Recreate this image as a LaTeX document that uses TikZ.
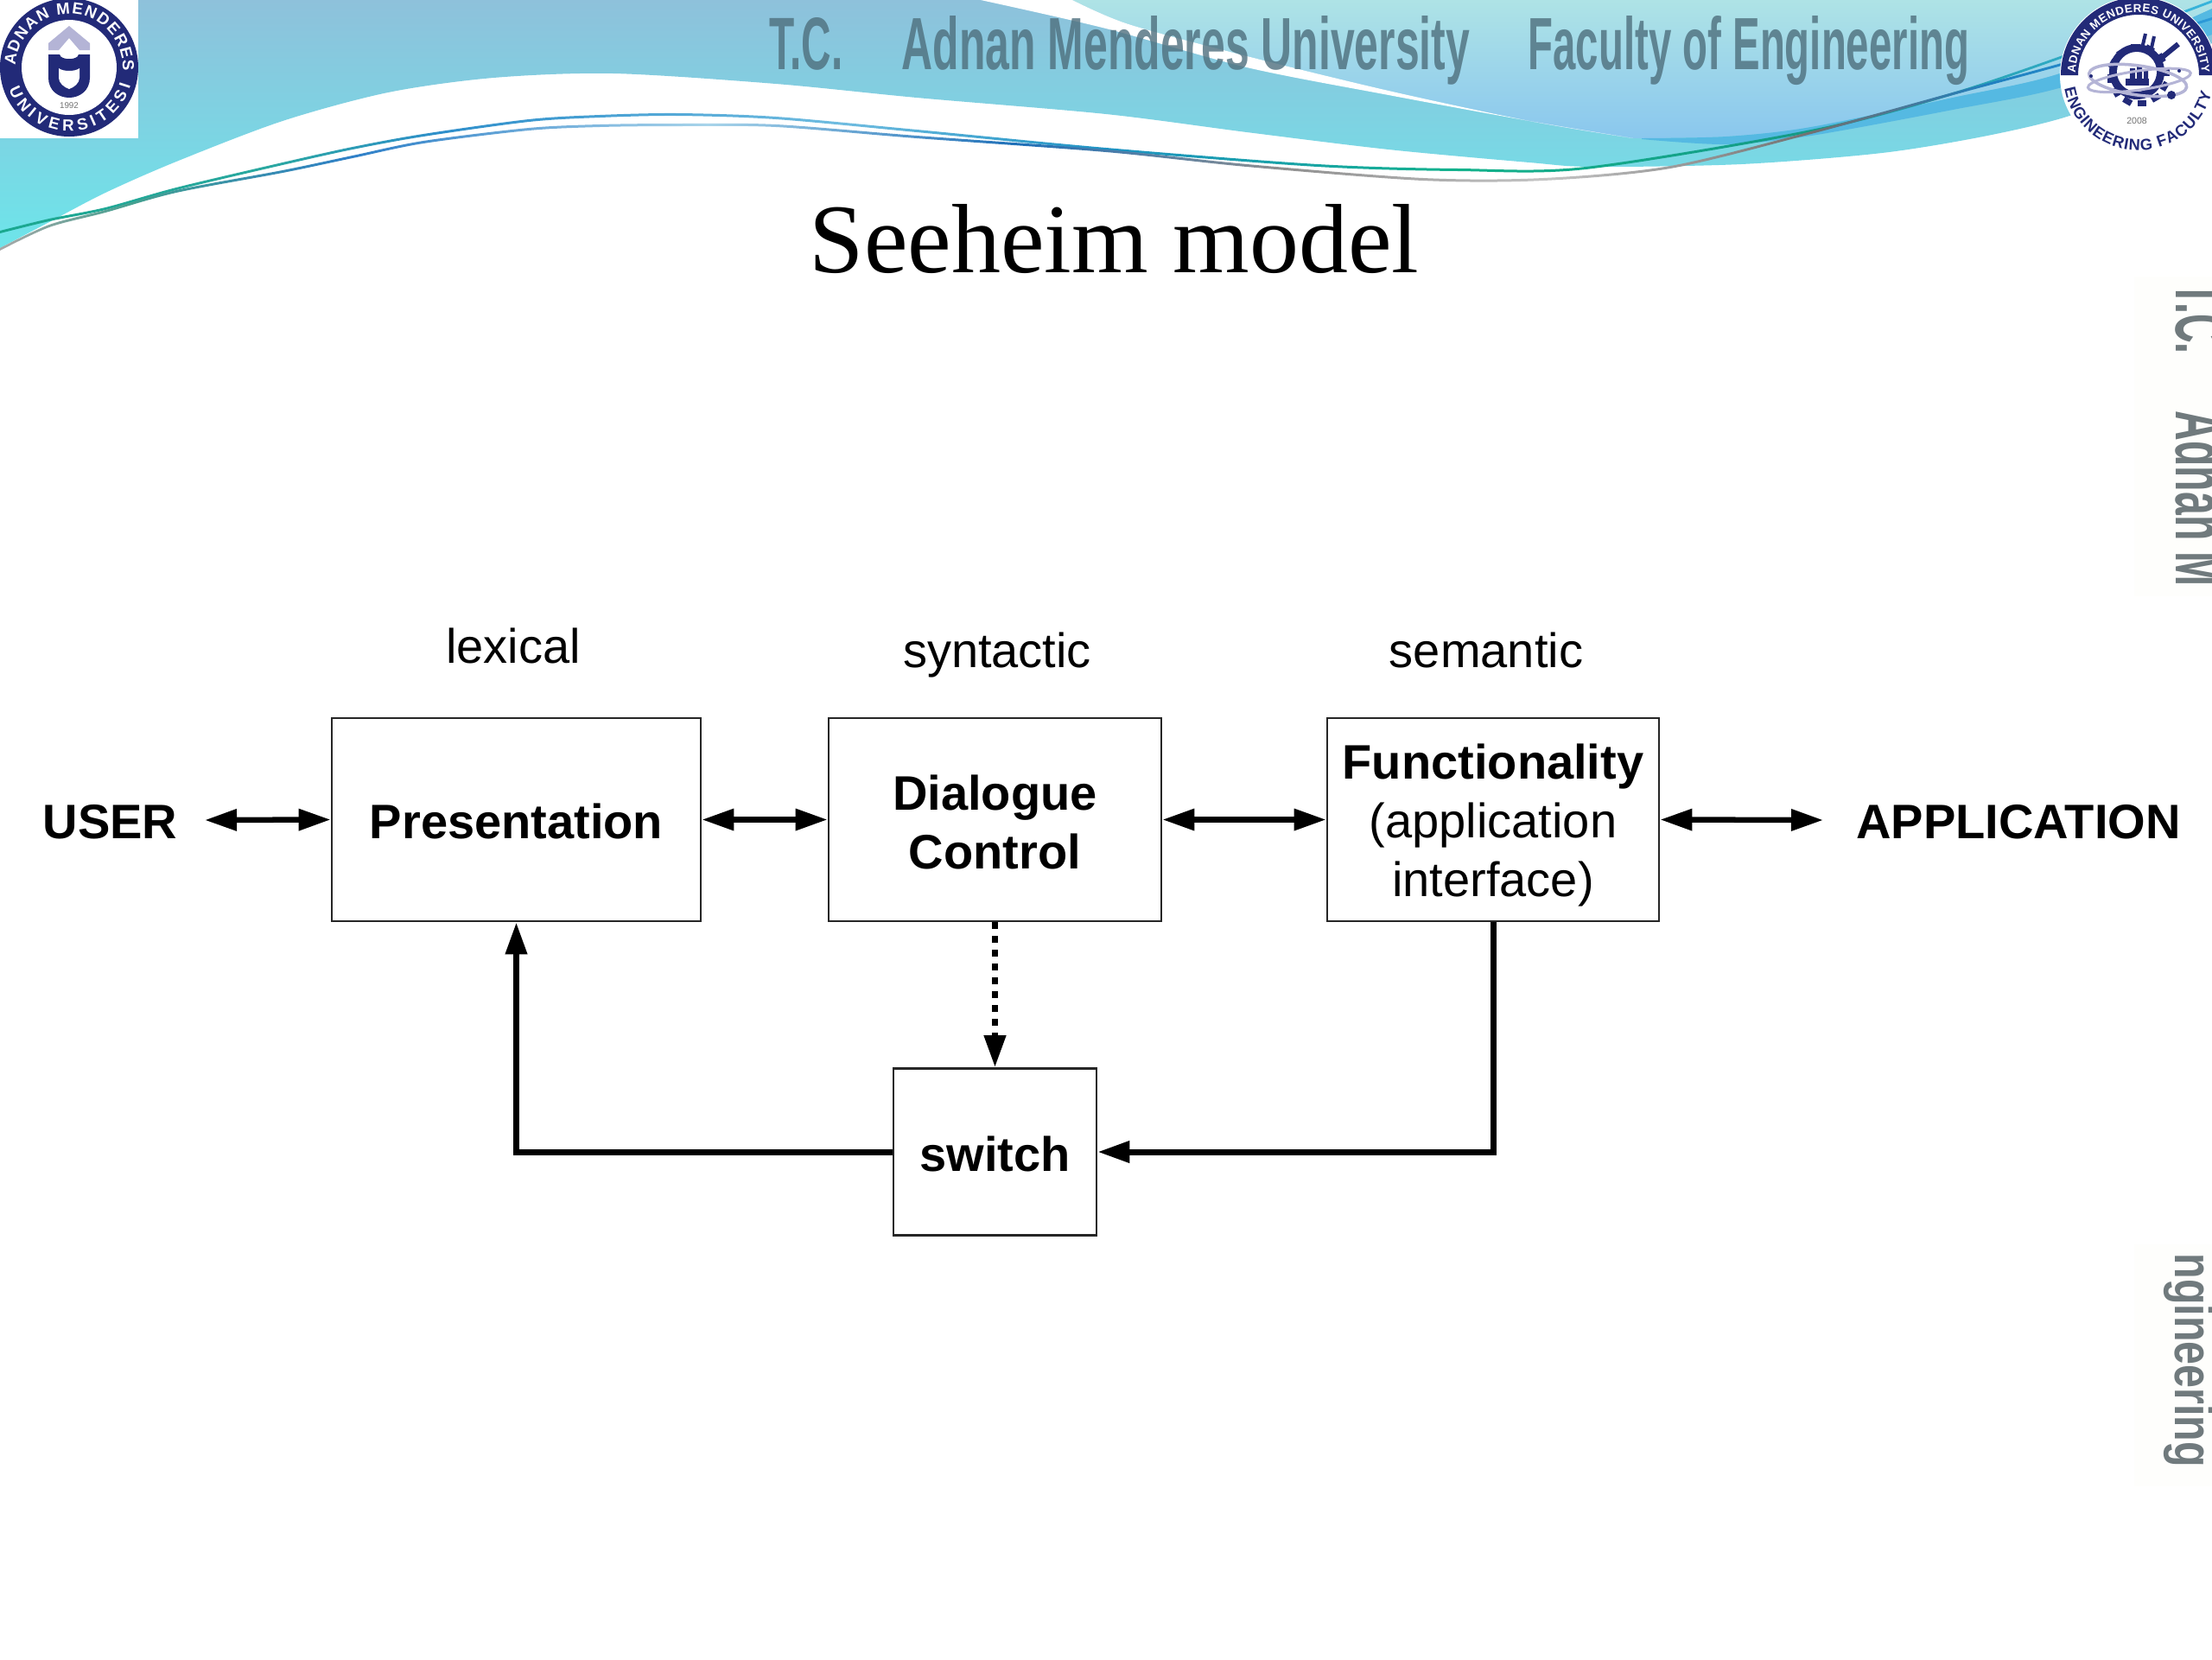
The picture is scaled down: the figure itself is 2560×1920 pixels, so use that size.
\documentclass[tikz,border=0pt]{standalone}
\usepackage{fontspec}
\usepackage{graphicx}
\usetikzlibrary{arrows.meta,decorations.text}
\setmainfont{Liberation Sans}
\setsansfont{Liberation Sans}
\newfontfamily\titlefont{Liberation Serif}
\definecolor{navy}{HTML}{222A78}
\definecolor{lav}{HTML}{B4B4D6}
\definecolor{hdrtext}{HTML}{4E6F7D}
\definecolor{sidetext}{HTML}{707A7D}
\definecolor{bandtop}{HTML}{8EC1DB}
\definecolor{bandbot}{HTML}{6DE5EA}
\definecolor{fieldtop}{HTML}{AEE3E6}
\definecolor{fieldbot}{HTML}{8AC7EE}
\definecolor{darkband}{HTML}{55B9E2}
\definecolor{panel}{HTML}{FEFEFC}
\definecolor{aa}{HTML}{1AA88F}
\definecolor{ab}{HTML}{2AA8A0}
\definecolor{ac}{HTML}{2F8FCB}
\definecolor{ad}{HTML}{6FBCE0}
\definecolor{ae}{HTML}{1F93C4}
\definecolor{af}{HTML}{14B28C}
\definecolor{ag}{HTML}{149A86}
\definecolor{ah}{HTML}{2AA5B8}
\definecolor{ai}{HTML}{38B4DC}
\definecolor{ba}{HTML}{A8A8A8}
\definecolor{bb}{HTML}{44A090}
\definecolor{bc}{HTML}{2F80C8}
\definecolor{bd}{HTML}{A8D4EA}
\definecolor{be}{HTML}{2070B8}
\definecolor{bf}{HTML}{909090}
\definecolor{bg}{HTML}{C4C4C4}
\definecolor{bh}{HTML}{707070}
\definecolor{bi}{HTML}{2080C0}
\definecolor{bj}{HTML}{2C9AD8}
\pgfdeclarehorizontalshading{lineA}{100bp}{
 color(0bp)=(aa); color(25bp)=(aa); color(31bp)=(ab);
 color(35bp)=(ac); color(44bp)=(ad); color(50bp)=(ae);
 color(58bp)=(af); color(66bp)=(ag); color(70bp)=(ah); color(75bp)=(ai); color(100bp)=(ai)}
\pgfdeclarehorizontalshading{lineB}{100bp}{
 color(0bp)=(ba); color(25bp)=(ba); color(28bp)=(bb); color(33bp)=(bc);
 color(41bp)=(bd); color(48bp)=(be); color(54bp)=(bf);
 color(60bp)=(bg); color(66bp)=(bh); color(70bp)=(bi); color(75bp)=(bj); color(100bp)=(bj)}
\newcommand{\lfa}{\sffamily\bfseries\fontsize{5.3}{6}\selectfont\color{white}}
\newcommand{\lfb}{\sffamily\bfseries\fontsize{3.8}{5}\selectfont\color{white}}
\newcommand{\lfc}{\sffamily\bfseries\fontsize{5.2}{6}\selectfont\color{navy}}
\tikzset{
 x=0.01cm,y=-0.01cm,
 diagbox/.style={draw=black!85,line width=0.7pt,fill=white,inner sep=0pt,align=center,font=\fontsize{15.93}{19.35}\selectfont},
 boldbox/.style={diagbox,font=\bfseries\fontsize{15.93}{19.35}\selectfont},
 endlab/.style={font=\bfseries\fontsize{15.93}{19.35}\selectfont,inner sep=0pt,anchor=base},
 layerlab/.style={font=\fontsize{15.93}{19.35}\selectfont,inner sep=0pt,anchor=base},
 dbl/.style={line width=0.065cm,{Triangle[length=0.37cm,width=0.24cm]}-{Triangle[length=0.37cm,width=0.24cm]}},
 single/.style={line width=0.07cm,-{Triangle[length=0.37cm,width=0.24cm]}},
 hdr/.style={inner sep=0pt,anchor=base west,text=hdrtext,text opacity=0.8,font=\bfseries},
 side/.style={inner sep=0pt,anchor=base west,rotate=-90,text=sidetext,font=\bfseries}
}
\begin{document}
\begin{tikzpicture}
\useasboundingbox (0,0) rectangle (2560,1920);
\clip (0,0) rectangle (2560,1920);
% faint panels
\fill[panel] (2470,320) rectangle (2560,690);
\fill[panel] (2470,1440) rectangle (2560,1720);
% header band
\shade[top color=bandtop,bottom color=bandbot]
 (0,0) -- (2560,0) -- plot[smooth] coordinates {(2560,50)(2480,95)(2398,133)(2300,157)(2178,177)(2015,190)(1843,193)(1770,188)(1607,173)(1443,153)(1280,132)(1061,113)(898,97)(710,85)(571,90)(449,107)(327,140)(204,187)(122,223)(57,257)(0,287)} -- cycle;
% upper right field
\shade[top color=fieldtop,bottom color=fieldbot]
 (1241,0) -- (2560,0) -- plot[smooth] coordinates {(2560,10)(2390,83)(2260,113)(2096,147)(1998,158)(1890,160)} -- plot[smooth] coordinates {(1884,159)(1770,140)(1607,105)(1443,65)(1306,28)(1241,0)} -- cycle;
% white sliver
\fill[white] plot[smooth] coordinates {(1241,0)(1306,28)(1443,65)(1607,105)(1770,140)(1890,160)} -- plot[smooth] coordinates {(1890,160)(1770,140)(1607,110)(1443,78)(1280,33)(1135,0)} -- cycle;
% dark band
\fill[darkband] plot[smooth] coordinates {(1900,160)(1998,158)(2096,147)(2260,113)(2390,83)(2560,10)} -- plot[smooth] coordinates {(2560,40)(2390,100)(2260,127)(2096,157)(1998,167)(1900,161)} -- cycle;
% header text
\node[hdr] (hdrA) at (890,80) {\resizebox{0.85cm}{0.6cm}{T.C.}};
\node[hdr] (hdrB) at (1043,80) {\resizebox{6.57cm}{0.62cm}{Adnan Menderes University}};
\node[hdr] (hdrC) at (1768,80) {\resizebox{5.1cm}{0.62cm}{Faculty of Engineering}};
% swooping lines
\shade[shading=lineA] plot[smooth] coordinates {(0,267)(57,253)(122,240)(204,217)(327,188)(408,170)(490,155)(612,138)(694,133)(784,131)(898,135)(1061,150)(1280,171)(1525,190)(1688,195)(1835,193)(2096,150)(2260,107)(2407,57)(2560,0)} -- plot[smooth] coordinates {(2560,3)(2407,60)(2260,110)(2096,153)(1835,196)(1688,198)(1525,193)(1280,174)(1061,153)(898,138)(784,134)(694,136)(612,141)(490,158)(408,173)(327,191)(204,220)(122,243)(57,256)(0,270)} -- cycle;
\shade[shading=lineB] plot[smooth] coordinates {(0,287)(57,260)(122,243)(204,220)(327,197)(408,180)(490,163)(612,148)(694,144)(784,143)(898,144)(1061,157)(1280,173)(1443,190)(1647,206)(1786,206)(1933,192)(2096,152)(2260,107)(2407,67)(2560,20)} -- plot[smooth] coordinates {(2560,23)(2407,70)(2260,110)(2096,155)(1933,195)(1786,209)(1647,209)(1443,193)(1280,176)(1061,160)(898,147)(784,146)(694,147)(612,151)(490,166)(408,183)(327,200)(204,223)(122,246)(57,263)(0,290)} -- cycle;
% left logo
\fill[white] (0,0) rectangle (160,160);
\begin{scope}[shift={(80,78)},x=0.01cm,y=0.01cm]
 \fill[navy] (0,0) circle[radius=80];
 \fill[white] (0,0) circle[radius=55];
 \path[postaction={decorate,decoration={text along path,text align={fit to path},text={|\lfa|ADNAN MENDERES}}}] (178:62) arc[start angle=178,end angle=-4,radius=62];
 \path[postaction={decorate,decoration={text along path,text align={fit to path},text={|\lfa|UNIVERSITESI}}}] (200:74) arc[start angle=200,end angle=344,radius=74];
\end{scope}
\fill[lav] (80,30) -- (104,50) -- (104,58) -- (92,58) -- (80,44) -- (68,58) -- (56,58) -- (56,50) -- cycle;
\fill[navy] (56,63) -- (69,63) .. controls (70,70) and (90,70) .. (91,63) -- (104,63) -- (104,90) .. controls (104,105) and (92,113) .. (80,113) .. controls (68,113) and (56,105) .. (56,90) -- cycle;
\fill[white] (68,79) .. controls (73,83) and (87,83) .. (92,79) -- (92,90) .. controls (92,96) and (86,101) .. (80,103) .. controls (74,101) and (68,96) .. (68,90) -- cycle;
\node[inner sep=0pt,text=black!55,font=\fontsize{2.8}{3}\selectfont] (ya) at (80,122) {1992};
% right logo
\begin{scope}[shift={(2475,87)},x=0.01cm,y=0.01cm]
 \fill[white] (0,0) circle[radius=91];
 \fill[navy] (-90,0) arc[start angle=180,end angle=0,radius=90] -- (70,0) arc[start angle=0,end angle=180,radius=70] -- cycle;
 \path[postaction={decorate,decoration={text along path,text align={fit to path},text={|\lfb|ADNAN MENDERES UNIVERSITY}}}] (178:73) arc[start angle=178,end angle=2,radius=73];
 \path[postaction={decorate,decoration={text along path,text align={fit to path},text={|\lfc|ENGINEERING FACULTY}}}] (190:87) arc[start angle=190,end angle=346,radius=87];
 \foreach \a in {0,30,...,330} {\fill[navy,rotate=\a,shift={(-2,4)}] (31,-5) rectangle (38,5);}
 \fill[navy] (-2,4) circle[radius=32];
 \fill[white] (-2,4) circle[radius=23];
 \fill[navy] (-15,-12) rectangle (12,-4);
 \fill[navy] (-10,-4) rectangle (-4,8) (-2,-4) rectangle (4,12) (6,-4) rectangle (11,6);
 \draw[navy,line width=0.04cm] (3,27) -- (8,48);
 \draw[navy,line width=0.04cm] (14,27) -- (18,45);
 \draw[navy,line width=0.06cm] (24,18) -- (46,36);
 \draw[lav,line width=0.035cm,rotate=-8] (0,-6) ellipse[x radius=57,y radius=17];
 \draw[lav,line width=0.03cm,rotate=8] (0,-6) ellipse[x radius=60,y radius=11];
 \fill[navy] (38,-23) circle[radius=5];
 \fill[navy] (-55,-1) circle[radius=2];
 \fill[navy] (47,5) circle[radius=2];
\end{scope}
\node[inner sep=0pt,text=black!55,font=\fontsize{3}{3}\selectfont] (yb) at (2473,140) {2008};
% rotated edge text
\node[side] (sideA) at (2518,326) {\resizebox{0.83cm}{0.6cm}{T.C.}};
\node[side] (sideB) at (2518,475) {\resizebox{2.03cm}{0.6cm}{Adnan M}};
\node[side] (sideC) at (2517,1450) {\resizebox{2.47cm}{0.45cm}{ngineering}};
% title
\node[inner sep=0pt,anchor=base,font=\titlefont\fontsize{32.4}{38}\selectfont] (title) at (1289.5,315) {Seeheim model};
% diagram
\node[boldbox,minimum width=4.27cm,minimum height=2.35cm] (pres) at (597.5,948.5) {\rule{0pt}{0.44cm}Presentation};
\node[boldbox,minimum width=3.85cm,minimum height=2.35cm] (dlg) at (1151.5,948.5) {\rule{0pt}{0.46cm}Dialogue\\Control};
\node[diagbox,minimum width=3.84cm,minimum height=2.35cm] (func) at (1728,948.5) {\rule{0pt}{0.54cm}\textbf{Functionality}\\(application\\interface)};
\node[boldbox,minimum width=2.35cm,minimum height=1.93cm] (sw) at (1151.5,1333) {\rule{0pt}{0.46cm}switch};
\node[endlab] (user) at (127.5,970) {USER};
\node[endlab] (app) at (2336,970) {APPLICATION};
\node[layerlab] (lex) at (594,767) {lexical};
\node[layerlab] (syn) at (1154,772) {syntactic};
\node[layerlab] (sem) at (1720,772) {semantic};
\coordinate (userend) at (237,949);
\coordinate (append) at (2110,949);
\draw[dbl] (userend) -- (pres.west);
\draw[dbl] (pres.east) -- (dlg.west);
\draw[dbl] (dlg.east) -- (func.west);
\draw[dbl] (func.east) -- (append);
\draw[single] (func.south) |- (sw.east);
\draw[single] (sw.west) -| (pres.south);
\draw[line width=0.07cm,dash pattern=on 0.08cm off 0.08cm,-{Triangle[length=0.37cm,width=0.24cm]}] (dlg.south) -- (sw.north);
\end{tikzpicture}
\end{document}
